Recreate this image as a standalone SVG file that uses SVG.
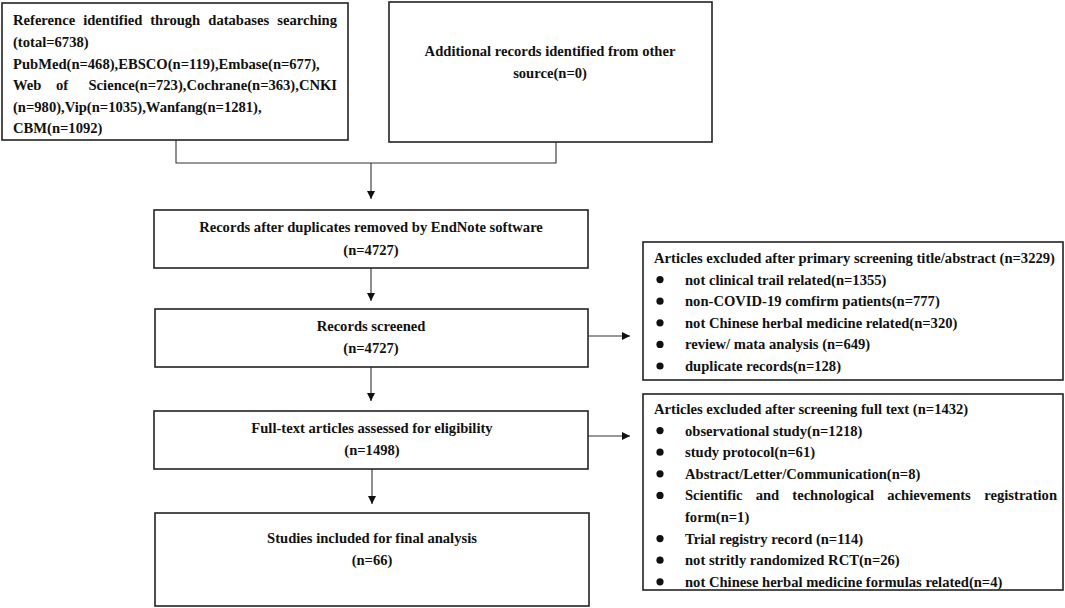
<svg xmlns="http://www.w3.org/2000/svg" width="1065" height="608" viewBox="0 0 1065 608">
<defs>
<style>
.box{fill:#fff;stroke:#222;stroke-width:1.6}
.t{font-family:"Liberation Serif","Times New Roman",serif;font-weight:bold;font-size:14.6px;fill:#111}
.c{text-anchor:middle}
.ln{fill:none;stroke:#333;stroke-width:1.1}
.dot{fill:#111}
</style>
<marker id="ah" viewBox="0 0 10 10" refX="10" refY="5" markerWidth="8" markerHeight="8" markerUnits="userSpaceOnUse" orient="auto">
<path d="M0,0 L10,5 L0,10 Z" fill="#111"/>
</marker>
</defs>
<rect width="1065" height="608" fill="#fff"/>

<g id="connectors">
<polyline class="ln" points="176,140 176,163 556,163 556,142"/>
<line class="ln" x1="371" y1="163" x2="371" y2="199" marker-end="url(#ah)"/>
<line class="ln" x1="371" y1="268" x2="371" y2="301" marker-end="url(#ah)"/>
<line class="ln" x1="371" y1="367" x2="371" y2="401" marker-end="url(#ah)"/>
<line class="ln" x1="372" y1="469" x2="372" y2="504" marker-end="url(#ah)"/>
<line class="ln" x1="588" y1="336" x2="630" y2="336" marker-end="url(#ah)"/>
<line class="ln" x1="588" y1="436" x2="630" y2="436" marker-end="url(#ah)"/>
</g>

<g id="node-databases">
<rect class="box" x="2" y="3" width="346" height="137"/>
<text class="t" y="25"><tspan x="13">Reference</tspan><tspan x="83.2">identified</tspan><tspan x="150.2">through</tspan><tspan x="208.3">databases</tspan><tspan x="337" text-anchor="end">searching</tspan></text>
<text class="t" x="13" y="47">(total=6738)</text>
<text class="t" x="13" y="69">PubMed(n=468),EBSCO(n=119),Embase(n=677),</text>
<text class="t" y="90"><tspan x="13">Web</tspan><tspan x="56">of</tspan><tspan x="337" text-anchor="end">Science(n=723),Cochrane(n=363),CNKI</tspan></text>
<text class="t" x="13" y="111.5">(n=980),Vip(n=1035),Wanfang(n=1281),</text>
<text class="t" x="13" y="133">CBM(n=1092)</text>
</g>

<g id="node-other">
<rect class="box" x="389" y="2" width="323" height="140"/>
<text class="t c" x="550" y="56">Additional records identified from other</text>
<text class="t c" x="550" y="78">source(n=0)</text>
</g>

<g id="node-dedup">
<rect class="box" x="154" y="210" width="434" height="58"/>
<text class="t c" x="371" y="232">Records after duplicates removed by EndNote software</text>
<text class="t c" x="371" y="255">(n=4727)</text>
</g>

<g id="node-screened">
<rect class="box" x="155" y="309" width="433" height="58"/>
<text class="t c" x="371" y="331">Records screened</text>
<text class="t c" x="371" y="353">(n=4727)</text>
</g>

<g id="node-fulltext">
<rect class="box" x="154" y="411" width="434" height="58"/>
<text class="t c" x="372" y="433">Full-text articles assessed for eligibility</text>
<text class="t c" x="372" y="455">(n=1498)</text>
</g>

<g id="node-included">
<rect class="box" x="155" y="513" width="434" height="93"/>
<text class="t c" x="372" y="543">Studies included for final analysis</text>
<text class="t c" x="372" y="565">(n=66)</text>
</g>

<g id="node-excluded-1">
<rect class="box" x="643" y="242" width="420" height="138"/>
<text class="t" x="654" y="263">Articles excluded after primary screening title/abstract (n=3229)</text>
<circle class="dot" cx="660" cy="279.6" r="3.6"/>
<text class="t" x="685" y="284.6">not clinical trail related(n=1355)</text>
<circle class="dot" cx="660" cy="301.2" r="3.6"/>
<text class="t" x="685" y="306.2">non-COVID-19 comfirm patients(n=777)</text>
<circle class="dot" cx="660" cy="322.8" r="3.6"/>
<text class="t" x="685" y="327.8">not Chinese herbal medicine related(n=320)</text>
<circle class="dot" cx="660" cy="344.4" r="3.6"/>
<text class="t" x="685" y="349.4">review/ mata analysis (n=649)</text>
<circle class="dot" cx="660" cy="366" r="3.6"/>
<text class="t" x="685" y="371">duplicate records(n=128)</text>
</g>

<g id="node-excluded-2">
<rect class="box" x="643" y="394" width="420" height="196"/>
<text class="t" x="654" y="414">Articles excluded after screening full text (n=1432)</text>
<circle class="dot" cx="660" cy="430.6" r="3.6"/>
<text class="t" x="685" y="435.6">observational study(n=1218)</text>
<circle class="dot" cx="660" cy="452.2" r="3.6"/>
<text class="t" x="685" y="457.2">study protocol(n=61)</text>
<circle class="dot" cx="660" cy="473.8" r="3.6"/>
<text class="t" x="685" y="478.8">Abstract/Letter/Communication(n=8)</text>
<circle class="dot" cx="660" cy="495.4" r="3.6"/>
<text class="t" y="500.4"><tspan x="685">Scientific</tspan><tspan x="755.7">and</tspan><tspan x="792.3">technological</tspan><tspan x="887.3">achievements</tspan><tspan x="1057" text-anchor="end">registration</tspan></text>
<text class="t" x="685" y="522">form(n=1)</text>
<circle class="dot" cx="660" cy="538.6" r="3.6"/>
<text class="t" x="685" y="543.6">Trial registry record (n=114)</text>
<circle class="dot" cx="660" cy="560.2" r="3.6"/>
<text class="t" x="685" y="565.2">not stritly randomized RCT(n=26)</text>
<circle class="dot" cx="660" cy="581.8" r="3.6"/>
<text class="t" x="685" y="586.8">not Chinese herbal medicine formulas related(n=4)</text>
</g>
</svg>
